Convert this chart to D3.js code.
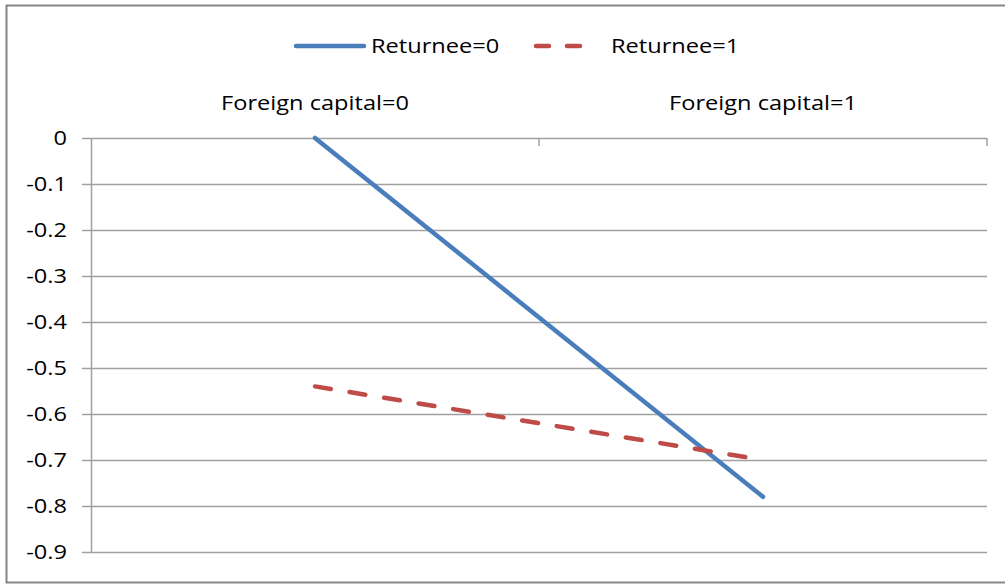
<!DOCTYPE html>
<html lang="en">
<head>
  <meta charset="UTF-8" />
  <title>Returnee by Foreign capital</title>
  <script src="https://d3js.org/d3.v7.min.js"></script>
  <style>
    body {
      margin: 0;
      background: #fff;
      font-family: "Open Sans", Lato, sans-serif;
    }
    svg {
      display: block;
    }
    text {
      fill: #000;
      font-size: 20px;
    }
  </style>
</head>
<body>
  <svg id="chart" width="1005" height="584"></svg>
  <script>
    const categories = ["Foreign capital=0", "Foreign capital=1"];
    const seriesNames = ["Returnee=0", "Returnee=1"];
    const returnee0 = [0, -0.78];
    const returnee1 = [-0.54, -0.70];
    const yTicks = [0, -0.1, -0.2, -0.3, -0.4, -0.5, -0.6, -0.7, -0.8, -0.9];

    const series = [
      { name: seriesNames[0], values: returnee0, color: "#4a7ebb", dash: null },
      { name: seriesNames[1], values: returnee1, color: "#be4b48", dash: "16,19" }
    ];

    // the original text is drawn a bit wider than the available fonts
    const stretch = 1.18;
    const place = (px, py) => `translate(${px},${py}) scale(${stretch},1)`;

    const svg = d3.select("#chart");
    const margin = { left: 91, right: 18, top: 138, bottom: 32 };
    const W = 1005, H = 584;

    // outer chart border
    svg.append("rect")
      .attr("x", 6.5).attr("y", 5.5)
      .attr("width", 1005).attr("height", 577)
      .attr("fill", "none")
      .attr("stroke", "#868686")
      .attr("stroke-width", 2);

    const x = d3.scaleBand()
      .domain(categories)
      .range([margin.left, W - margin.right]);

    const y = d3.scaleLinear()
      .domain([-0.9, 0])
      .range([H - margin.bottom, margin.top]);

    // gridlines
    svg.append("g")
      .selectAll("line")
      .data(yTicks)
      .join("line")
      .attr("x1", margin.left - 9)
      .attr("x2", W - margin.right)
      .attr("y1", d => Math.round(y(d)) + 0.5)
      .attr("y2", d => Math.round(y(d)) + 0.5)
      .attr("stroke", "#a0a0a0")
      .attr("stroke-width", 1.5);

    // y axis line
    svg.append("line")
      .attr("x1", margin.left + 0.5).attr("x2", margin.left + 0.5)
      .attr("y1", y(0)).attr("y2", y(-0.9))
      .attr("stroke", "#a0a0a0")
      .attr("stroke-width", 1.5);

    // y tick labels
    svg.append("g")
      .selectAll("text")
      .data(yTicks)
      .join("text")
      .attr("transform", d => place(67, y(d)))
      .attr("dy", "0.35em")
      .attr("text-anchor", "end")
      .text(d => d === 0 ? "0" : d3.format(".1f")(d).replace("−", "-"));

    // category axis ticks along y=0 (pointing down)
    const bounds = categories.map(c => x(c) + x.bandwidth());
    svg.append("g")
      .selectAll("line")
      .data(bounds)
      .join("line")
      .attr("x1", d => d).attr("x2", d => d)
      .attr("y1", y(0)).attr("y2", y(0) + 8)
      .attr("stroke", "#a0a0a0")
      .attr("stroke-width", 1.5);

    // category labels above plot
    svg.append("g")
      .selectAll("text")
      .data(categories)
      .join("text")
      .attr("transform", d => place(x(d) + x.bandwidth() / 2, 110))
      .attr("text-anchor", "middle")
      .text(d => d);

    // lines
    const line = d3.line()
      .x((d, i) => x(categories[i]) + x.bandwidth() / 2)
      .y(d => y(d));

    svg.append("g")
      .selectAll("path")
      .data(series)
      .join("path")
      .attr("d", d => line(d.values))
      .attr("fill", "none")
      .attr("stroke", d => d.color)
      .attr("stroke-width", 4.5)
      .attr("stroke-linecap", "round")
      .attr("stroke-dasharray", d => d.dash);

    // legend
    const legendItems = [
      { s: series[0], x1: 296, x2: 364, tx: 371 },
      { s: series[1], x1: 536, x2: 580, tx: 611 }
    ];
    const lg = svg.append("g");
    legendItems.forEach(it => {
      lg.append("line")
        .attr("x1", it.x1).attr("x2", it.x2)
        .attr("y1", 46).attr("y2", 46)
        .attr("stroke", it.s.color)
        .attr("stroke-width", 4.5)
        .attr("stroke-linecap", "round")
        .attr("stroke-dasharray", it.s.dash ? "13,18" : null);
      lg.append("text")
        .attr("transform", place(it.tx, 46))
        .attr("dy", "0.35em")
        .text(it.s.name);
    });
  </script>
</body>
</html>
